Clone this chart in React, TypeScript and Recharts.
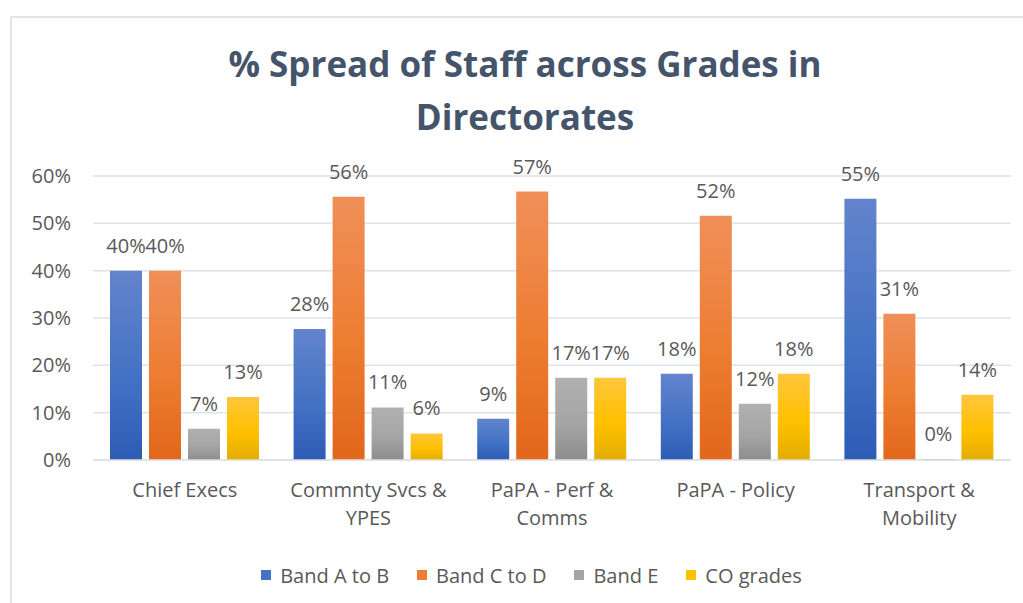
import React from "react";
import {
  BarChart,
  Bar,
  XAxis,
  YAxis,
  CartesianGrid,
  Legend,
  LabelList,
} from "recharts";

const directorates = [
  "Chief Execs",
  "Commnty Svcs & YPES",
  "PaPA - Perf & Comms",
  "PaPA - Policy",
  "Transport & Mobility",
];

const bandAtoB = [0.4, 0.277, 0.087, 0.182, 0.552];
const bandCtoD = [0.4, 0.556, 0.567, 0.516, 0.309];
const bandE = [0.066, 0.111, 0.174, 0.119, 0];
const coGrades = [0.133, 0.056, 0.174, 0.182, 0.138];

const yTicks = [0, 0.1, 0.2, 0.3, 0.4, 0.5, 0.6];

const series = [
  { key: "a", name: "Band A to B", values: bandAtoB, color: "#4472c4", top: "#6384cc", bottom: "#2e5cb5" },
  { key: "c", name: "Band C to D", values: bandCtoD, color: "#ed7d31", top: "#f08f59", bottom: "#e1671a" },
  { key: "e", name: "Band E", values: bandE, color: "#a5a5a5", top: "#b0b0b0", bottom: "#8d8d8d" },
  { key: "co", name: "CO grades", values: coGrades, color: "#ffc000", top: "#ffc63c", bottom: "#e3ad00" },
];

const data = directorates.map((name, i) => {
  const row: Record<string, any> = { name };
  series.forEach((s) => (row[s.key] = s.values[i]));
  return row;
});

const FONT = "'Open Sans', 'Noto Sans', sans-serif";
const pct = (v: any) => `${Math.round(Number(v) * 100)}%`;

// split a category name into lines that fit the given width
let ctx: CanvasRenderingContext2D | null = null;
function wrap(text: string, maxWidth: number, font: string) {
  if (!ctx) ctx = document.createElement("canvas").getContext("2d");
  if (!ctx) return [text];
  ctx.font = font;
  const words = text.split(" ");
  const lines: string[] = [];
  let cur = "";
  words.forEach((w) => {
    const next = cur ? `${cur} ${w}` : w;
    if (cur && ctx!.measureText(next).width > maxWidth) {
      lines.push(cur);
      cur = w;
    } else {
      cur = next;
    }
  });
  if (cur) lines.push(cur);
  return lines;
}

function CategoryTick({ x, y, payload }: any) {
  const lines = wrap(String(payload.value), 172, `20px 'Open Sans'`);
  return (
    <text x={x} y={y + 14} textAnchor="middle" fill="#595959" fontSize={20} fontFamily={FONT}>
      {lines.map((l, i) => (
        <tspan key={i} x={x} dy={i === 0 ? 0 : 28}>
          {l}
        </tspan>
      ))}
    </text>
  );
}

function LegendContent() {
  return (
    <div style={{ display: "flex", justifyContent: "center", alignItems: "center", height: 26 }}>
      {series.map((s) => (
        <div key={s.key} style={{ display: "flex", alignItems: "center", margin: "0 14px" }}>
          <span style={{ width: 10, height: 10, background: s.color, marginRight: 9, display: "inline-block" }} />
          <span style={{ fontSize: 20, color: "#595959", fontFamily: FONT }}>{s.name}</span>
        </div>
      ))}
    </div>
  );
}

export default function App() {
  return (
    <div
      style={{
        position: "absolute",
        left: 0,
        top: 0,
        width: 1023,
        height: 603,
        overflow: "hidden",
        background: "#fff",
        fontFamily: FONT,
      }}
    >
      <div
        style={{
          position: "absolute",
          left: 10,
          top: 16,
          width: 1040,
          height: 620,
          border: "2px solid #e1e4ea",
        }}
      />
      <div
        style={{
          position: "absolute",
          left: 0,
          top: 37,
          width: 1050,
          textAlign: "center",
          fontSize: 35,
          fontWeight: 700,
          lineHeight: "53px",
          color: "#44546a",
        }}
      >
        % Spread of Staff across Grades in
        <br />
        Directorates
      </div>
      <div style={{ position: "absolute", left: 0, top: 0 }}>
        <BarChart
          width={1023}
          height={603}
          data={data}
          margin={{ top: 176, right: 12, left: 0, bottom: 57 }}
          barSize={32}
          barGap={7}
        >
          <defs>
            {series.map((s) => (
              <linearGradient key={s.key} id={`grad-${s.key}`} x1="0" y1="0" x2="0" y2="1">
                <stop offset="0%" stopColor={s.top} />
                <stop offset="55%" stopColor={s.color} />
                <stop offset="100%" stopColor={s.bottom} />
              </linearGradient>
            ))}
          </defs>
          <CartesianGrid vertical={false} stroke="#dfe2e6" strokeWidth={1.5} />
          <XAxis
            dataKey="name"
            height={60}
            tickLine={false}
            axisLine={{ stroke: "#dfe2e6", strokeWidth: 1.5 }}
            tickMargin={17}
            interval={0}
            tick={<CategoryTick />}
          />
          <YAxis
            width={93}
            domain={[0, 0.6]}
            ticks={yTicks}
            tickFormatter={pct}
            tickLine={false}
            axisLine={false}
            tickMargin={16}
            tick={{ fill: "#595959", fontSize: 20, fontFamily: FONT }}
          />
          <Legend
            content={<LegendContent />}
            wrapperStyle={{ position: "absolute", top: 562, left: 40, width: 983 }}
          />
          {series.map((s) => (
            <Bar
              key={s.key}
              dataKey={s.key}
              name={s.name}
              fill={`url(#grad-${s.key})`}
              minPointSize={(v: number) => (v === 0 ? 1 : 0)}
              isAnimationActive={false}
            >
              <LabelList
                dataKey={s.key}
                position="top"
                offset={18}
                formatter={pct}
                fill="#595959"
                fontSize={20}
                fontFamily={FONT}
              />
            </Bar>
          ))}
        </BarChart>
      </div>
    </div>
  );
}
